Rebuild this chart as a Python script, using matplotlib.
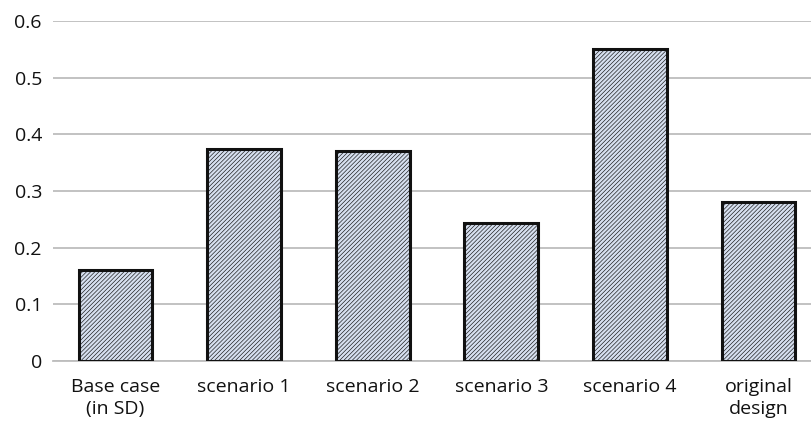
import matplotlib.pyplot as plt
import numpy as np

plt.rcParams['font.family'] = ['Open Sans', 'DejaVu Sans']
plt.rcParams['hatch.color'] = '#bfc7d8'
plt.rcParams['hatch.linewidth'] = 0.45

categories = ['Base case\n(in SD)', 'scenario 1', 'scenario 2', 'scenario 3',
              'scenario 4', 'original\ndesign']
values = [0.16, 0.374, 0.37, 0.244, 0.55, 0.28]
yticks = [0, 0.1, 0.2, 0.3, 0.4, 0.5, 0.6]
ytick_labels = ['0', '0.1', '0.2', '0.3', '0.4', '0.5', '0.6']

fig = plt.figure(figsize=(8.12, 4.24), dpi=100)
ax = fig.add_axes([0.0653, 0.1486, 0.9347, 0.802])

x = np.arange(len(categories))
ax.bar(x, values, width=0.575, color='#d6dfef', edgecolor='#111111',
       linewidth=2.2, hatch='////////', zorder=3)

ax.set_ylim(0, 0.6)
ax.set_xlim(-0.486, 5.416)
ax.set_yticks(yticks)
ax.set_yticklabels(ytick_labels)
ax.set_xticks(x)
ax.set_xticklabels(categories, linespacing=1.3)
ax.yaxis.grid(True, color='#bdbdbd', linewidth=1.3, zorder=0)
for s in ['top', 'right', 'left']:
    ax.spines[s].set_visible(False)
ax.spines['bottom'].set_color('#bdbdbd')
ax.spines['bottom'].set_linewidth(1.3)
ax.tick_params(axis='both', length=0, labelsize=14, colors='#111111')
ax.tick_params(axis='x', pad=12)
ax.tick_params(axis='y', pad=8)

fig.savefig('out.png', dpi=100)
